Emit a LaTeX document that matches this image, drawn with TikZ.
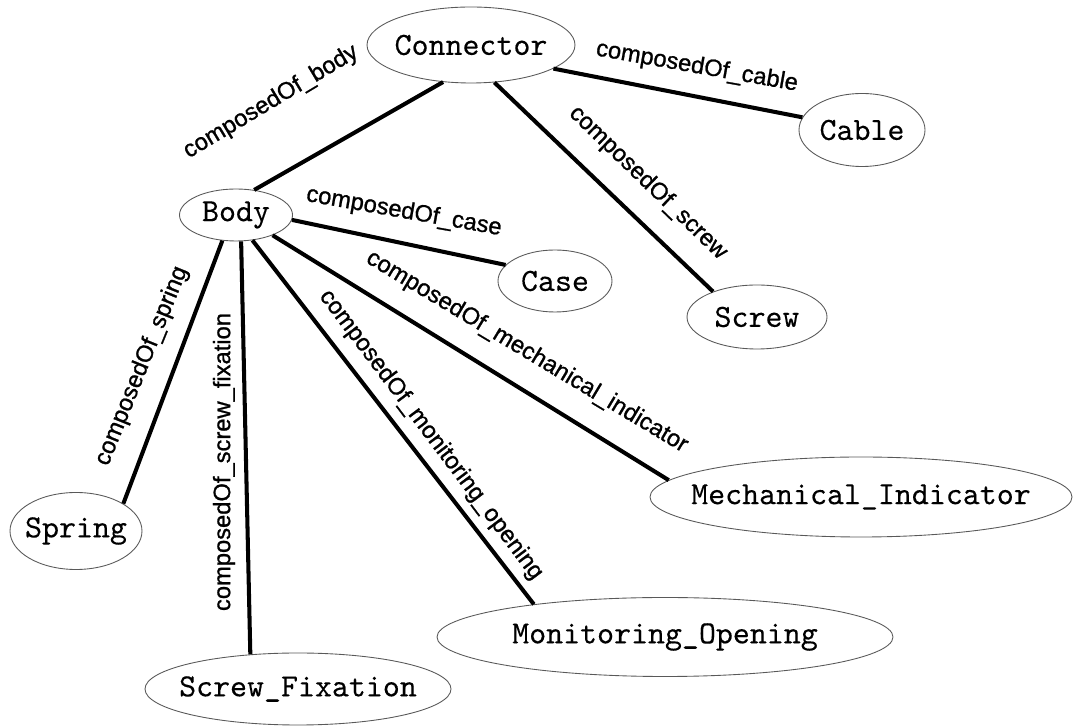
\documentclass[tikz,border=0pt]{standalone}
\usepackage{fontspec}
\usetikzlibrary{shapes.geometric}
\newfontfamily\relfont[FakeBold=1]{Liberation Sans}
\newfontfamily\partfont[FakeBold=0.2]{lmmono10-regular.otf}
\begin{document}
\begin{tikzpicture}[
    part/.style={draw=black!65, line width=0.5pt, ellipse, inner xsep=-1.5cm, inner ysep=0pt,
        font=\partfont\fontsize{18.4}{20}\selectfont},
    rel/.style={line width=2.3pt},
    lbl/.style={font=\relfont\fontsize{13.5}{15}\selectfont, inner sep=0pt}
]
    \useasboundingbox (0,0) rectangle (21.5,14.52);

    % parts
    \node[part, minimum width=4.16cm, minimum height=1.52cm] (conn) at (9.42,13.62) {Connector};
    \node[part, minimum width=2.52cm, minimum height=1.46cm] (cable) at (17.24,11.92) {Cable};
    \node[part, minimum width=2.26cm, minimum height=1.04cm] (body) at (4.72,10.22) {Body};
    \node[part, minimum width=2.28cm, minimum height=1.24cm] (case) at (11.10,8.90) {Case};
    \node[part, minimum width=2.80cm, minimum height=1.28cm] (screw) at (15.14,8.18) {Screw};
    \node[part, minimum width=2.64cm, minimum height=1.54cm] (spring) at (1.52,3.90) {Spring};
    \node[part, minimum width=8.44cm, minimum height=1.60cm] (mind) at (17.22,4.58) {Mechanical\_Indicator};
    \node[part, minimum width=9.12cm, minimum height=1.58cm] (mopen) at (13.30,1.78) {Monitoring\_Opening};
    \node[part, minimum width=6.12cm, minimum height=1.44cm] (sfix) at (5.96,0.74) {Screw\_Fixation};

    % relations
    \draw[rel] (conn.233) -- (body.54);
    \draw[rel] (conn.-16) -- (cable.168);
    \draw[rel] (conn.302) -- (screw.150);
    \draw[rel] (body.-5) -- (case.162);
    \draw[rel] (body.242) -- (spring.30);
    \draw[rel] (body.281) -- (sfix.144);
    \draw[rel] (body.303) -- (mopen.166);
    \draw[rel] (body.331) -- (mind.175);

    % relation labels
    \node[lbl, rotate=31] (l-body) at (5.42,12.48) {composedOf\_body};
    \node[lbl, rotate=-10] (l-cable) at (13.94,13.18) {composedOf\_cable};
    \node[lbl, rotate=-44] (l-screw) at (12.96,10.86) {composedOf\_screw};
    \node[lbl, rotate=-10] (l-case) at (8.08,10.28) {composedOf\_case};
    \node[lbl, rotate=68] (l-spring) at (2.84,7.20) {composedOf\_spring};
    \node[lbl, rotate=90] (l-sfix) at (4.48,5.28) {composedOf\_screw\_fixation};
    \node[lbl, rotate=-53] (l-mopen) at (8.62,5.82) {composedOf\_monitoring\_opening};
    \node[lbl, rotate=-31] (l-mind) at (10.54,7.48) {composedOf\_mechanical\_indicator};
\end{tikzpicture}
\end{document}
